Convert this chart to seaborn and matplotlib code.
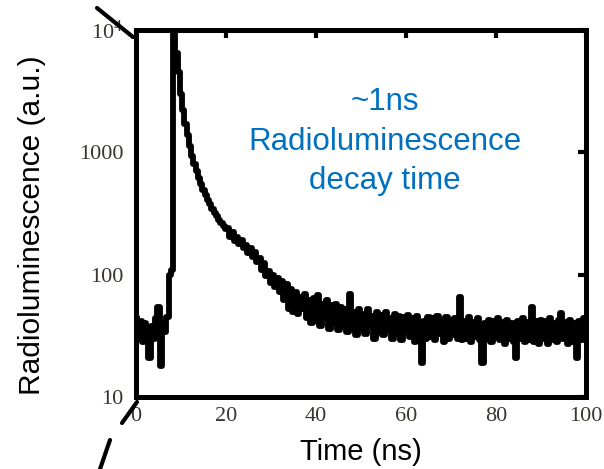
import matplotlib.pyplot as plt
import numpy as np
import pandas as pd
import seaborn as sns
from matplotlib.lines import Line2D
from matplotlib.ticker import NullLocator

# time bins of the trace (ns)
time_ns = np.arange(0, 100.5, 0.5)

# radioluminescence counts, one per 0.5 ns bin
counts = [
    45, 30, 42, 28, 40, 33, 21, 38, 30, 44,            # 0 - 4.5
    54, 18, 40, 34, 45, 100, 110, 10000, 6500, 4500,   # 5 - 9.5
    3000, 2200, 1700, 1380, 1130, 940, 800, 700, 620, 550,  # 10 - 14.5
    495, 450, 410, 375, 345, 320, 300, 282, 265, 250,  # 15 - 19.5
    235,                                               # 20
    240, 205, 222, 190, 205, 178, 192, 165, 176, 150,  # 20.5 - 25
    164, 140, 152, 126, 138, 110, 124, 98, 108, 86,    # 25.5 - 30
    100, 80, 94, 72, 88, 62, 84, 52, 76, 50,           # 30.5 - 35
    72, 48, 66, 52, 70, 44, 62, 40, 64, 42,            # 35.5 - 40
    68, 38, 58, 44, 62, 36, 56, 40, 58, 35,            # 40.5 - 45
    54, 38, 52, 34, 70, 36, 50, 32, 52, 36,            # 45.5 - 50
    48, 33, 52, 38, 46, 30, 50, 34, 47, 32,            # 50.5 - 55
    50, 35, 44, 30, 48, 33, 46, 29, 45, 34,            # 55.5 - 60
    47, 31, 44, 28, 46, 32, 19, 42, 30, 45,            # 60.5 - 65
    31, 44, 29, 46, 33, 42, 28, 45, 30, 43,            # 65.5 - 70
    32, 44, 30, 66, 29, 42, 30, 45, 28, 41,            # 70.5 - 75
    31, 44, 29, 19, 40, 30, 43, 28, 42, 31,            # 75.5 - 80
    44, 29, 41, 27, 43, 30, 40, 28, 21, 42,            # 80.5 - 85
    30, 44, 28, 41, 29, 54, 28, 42, 27, 43,            # 85.5 - 90
    30, 42, 27, 44, 29, 40, 28, 43, 49, 30,            # 90.5 - 95
    41, 27, 43, 28, 40, 21, 42, 29, 44, 32,            # 95.5 - 100
]

y_ticks = [10, 100, 1000, 10000]
y_ticklabels = ['10', '100', '1000', r'$\mathregular{10^4}$']
x_ticks = [0, 20, 40, 60, 80, 100]

df = pd.DataFrame({'time': time_ns, 'counts': counts})

sns.set_theme(style='white')
plt.rcParams['font.family'] = ['Liberation Sans', 'DejaVu Sans']

fig, ax = plt.subplots(figsize=(6.04, 4.69), dpi=100)
fig.subplots_adjust(left=0.225, right=0.970, bottom=0.1535, top=0.936)

sns.lineplot(data=df, x='time', y='counts', color='black', linewidth=4.2,
             drawstyle='steps-mid', ax=ax)

ax.set_yscale('log')
ax.set_ylim(10, 10000)
ax.set_xlim(0, 100)
ax.set_yticks(y_ticks)
ax.set_yticklabels(y_ticklabels)
ax.yaxis.set_minor_locator(NullLocator())
ax.set_xticks(x_ticks)
ax.set_xticklabels([str(t) for t in x_ticks])

ax.tick_params(direction='in', length=6, width=3, top=True, right=True,
               labelsize=16, labelcolor='#3a3530', color='black')
ax.tick_params(axis='x', pad=7)
ax.tick_params(axis='y', pad=9)
for lbl in ax.get_xticklabels() + ax.get_yticklabels():
    lbl.set_fontfamily('Liberation Serif')

for sp in ax.spines.values():
    sp.set_linewidth(3.6)
    sp.set_color('black')

ax.set_xlabel('Time (ns)', fontsize=21, color='black')
ax.xaxis.set_label_coords(0.5, -0.112)
ax.set_ylabel('Radioluminescence (a.u.)', fontsize=21.5, color='black')
ax.yaxis.set_label_coords(-0.2, 0.469)

ax.text(0.553, 0.696, '~1ns\nRadioluminescence\ndecay time',
        transform=ax.transAxes, ha='center', va='center',
        color='#0070C0', fontsize=22.5, linespacing=1.42)

# scan edge strokes
fig.add_artist(Line2D([0.1606, 0.2202], [0.983, 0.921], color='black', lw=3,
                      transform=fig.transFigure))
fig.add_artist(Line2D([0.2268, 0.2020], [0.1429, 0.0981], color='black', lw=3,
                      transform=fig.transFigure))
fig.add_artist(Line2D([0.1821, 0.1656], [0.0618, 0.0], color='black', lw=3,
                      transform=fig.transFigure))

fig.savefig('out.png', dpi=100)
